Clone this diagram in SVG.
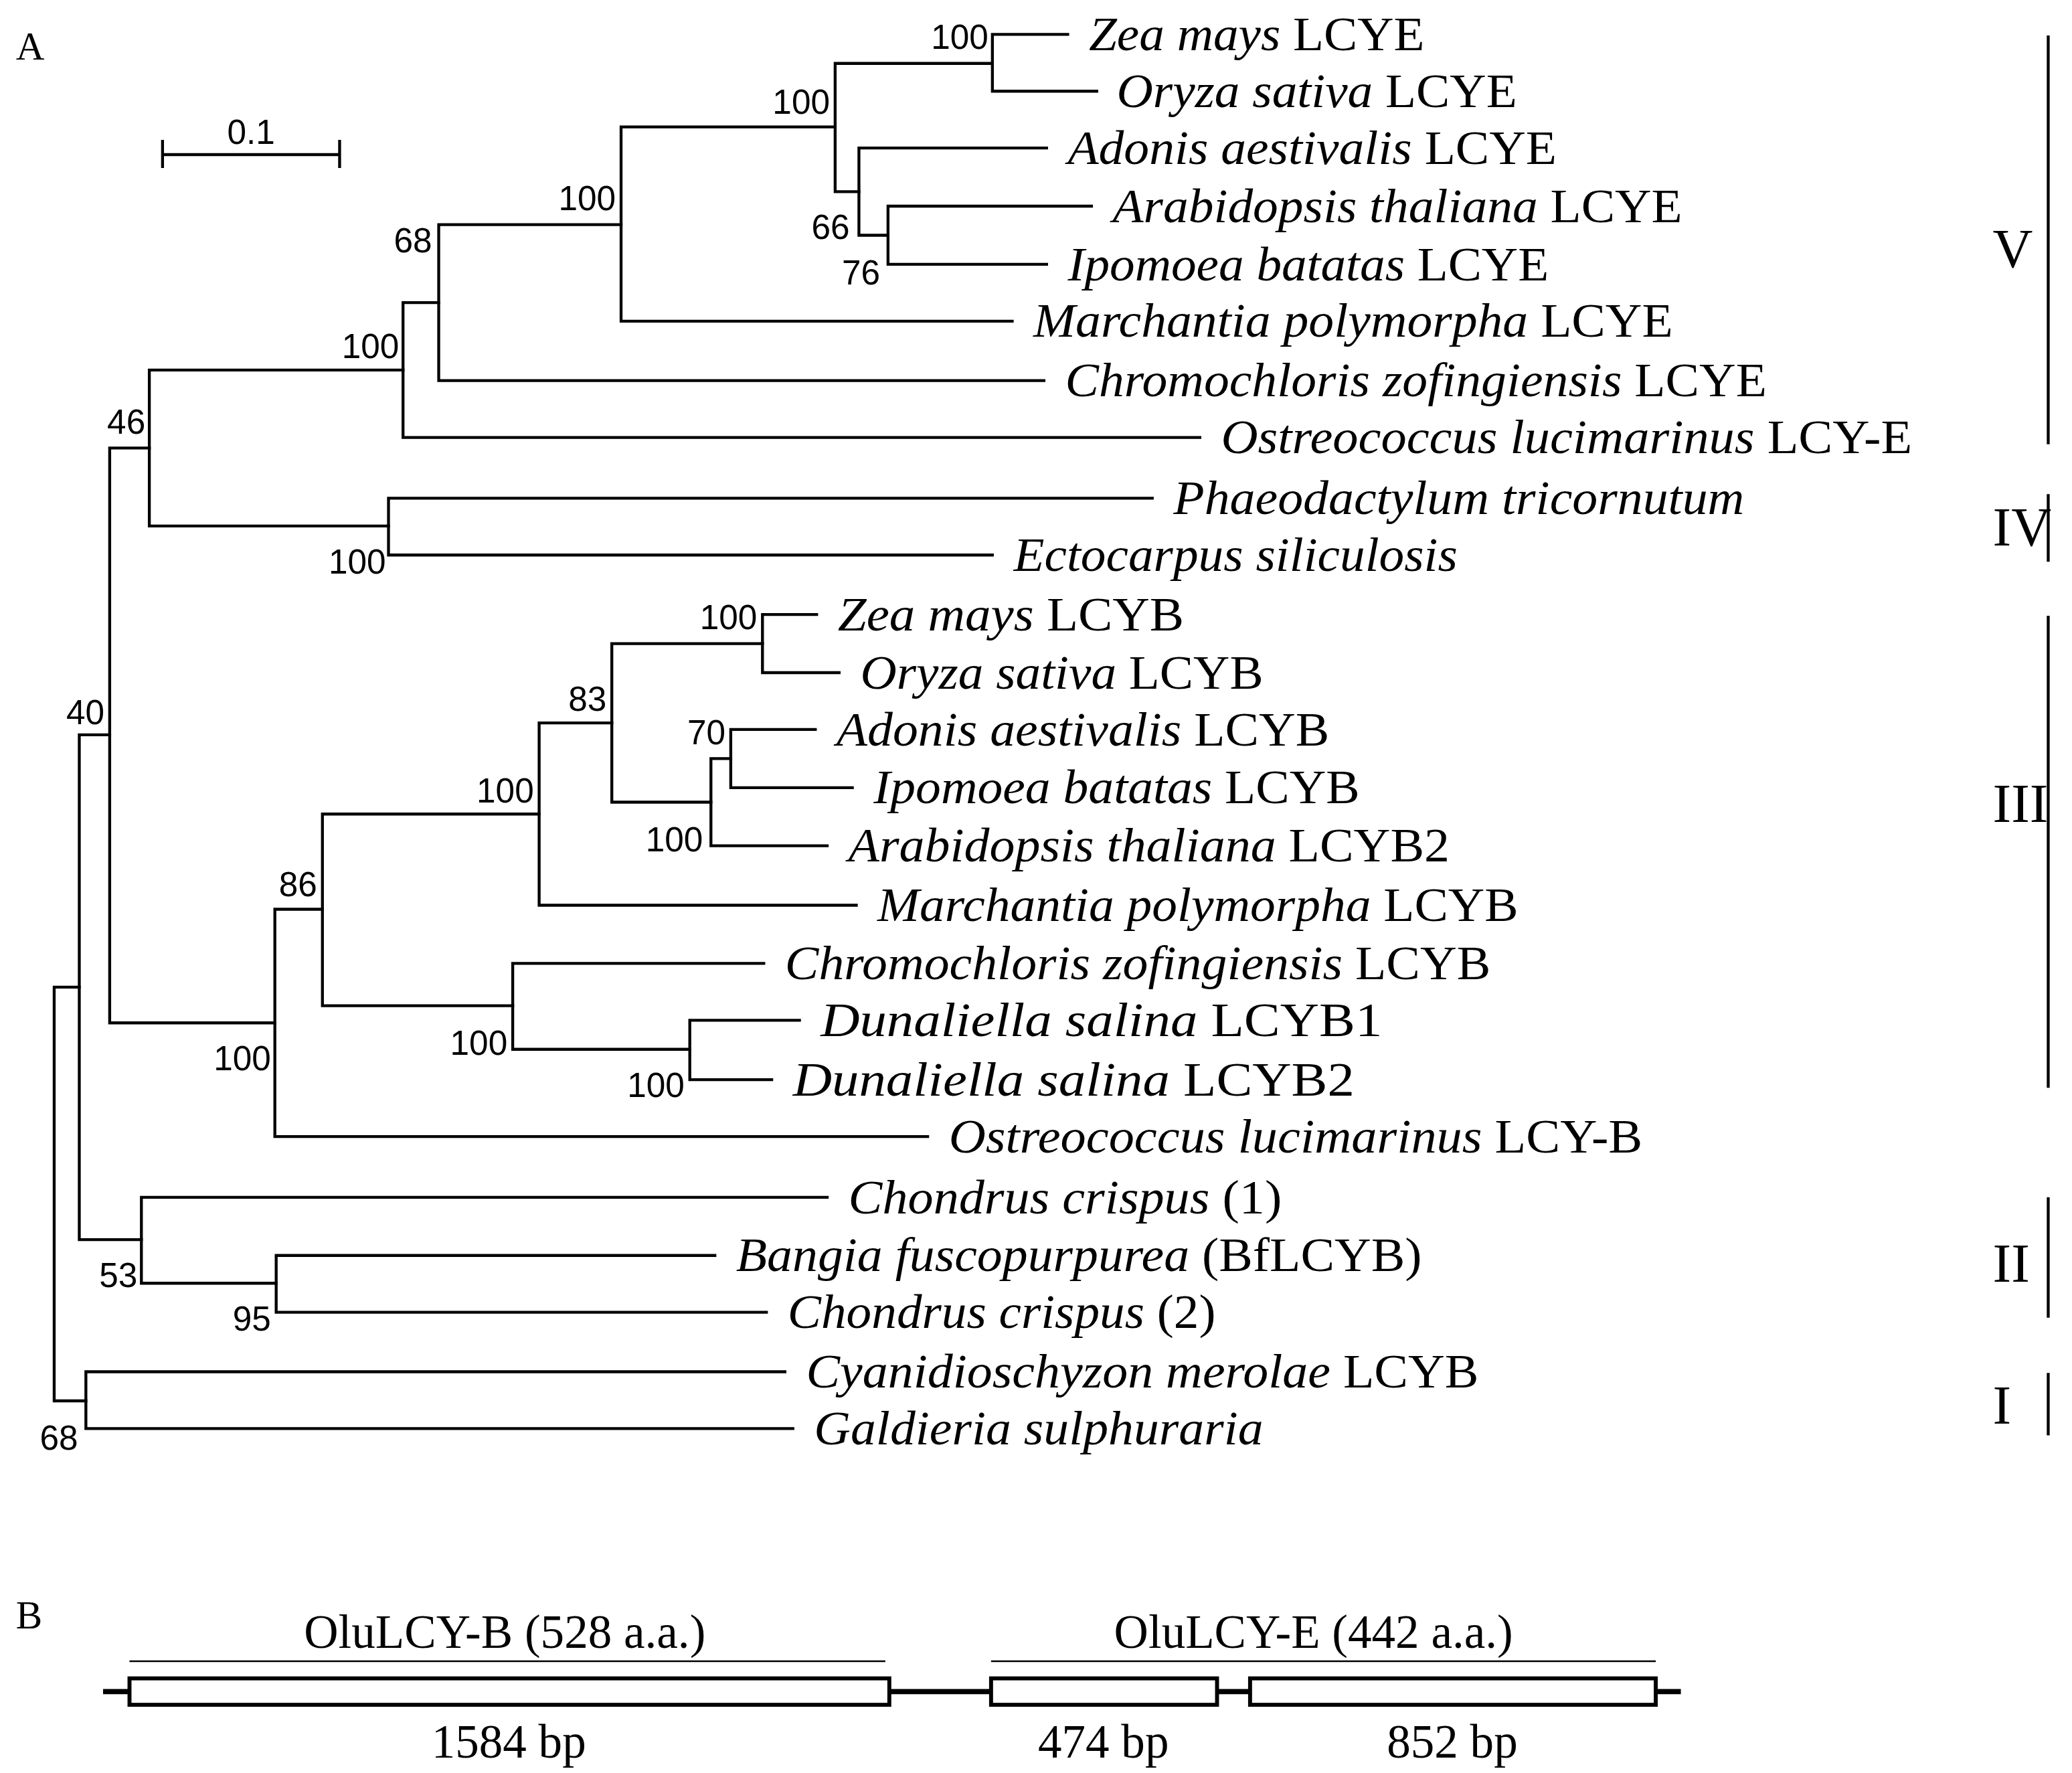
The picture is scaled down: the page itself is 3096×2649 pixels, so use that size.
<svg xmlns="http://www.w3.org/2000/svg" width="3096" height="2649" viewBox="0 0 3096 2649">
<style>
.t{font-family:"Liberation Serif",serif;font-size:36px;fill:#000}
.i{font-style:italic}
.b{font-family:"Liberation Sans",Arial,sans-serif;font-size:26px;fill:#000}
.r{font-family:"Liberation Serif",serif;font-size:42px;fill:#000}
.e{fill:none;stroke:#000;stroke-width:2.2;stroke-linecap:square}
</style>
<rect width="3096" height="2649" fill="#fff"/>
<g transform="scale(1.9745)">
<text class="r" x="12" y="45" style="font-size:30px">A</text>
<g id="scalebar"><path class="e" d="M123 117H257M123 107V126M257 107V126"/><text class="b" x="190" y="109" text-anchor="middle">0.1</text></g>
<g id="connectors">
<path class="e" d="M751 26H808M751 69H830M751 26V69"/>
<path class="e" d="M672 156H826M672 200H792M672 156V200"/>
<path class="e" d="M650 112H792M650 178H672M650 112V178"/>
<path class="e" d="M632 48H751M632 145H650M632 48V145"/>
<path class="e" d="M470 96H632M470 243H766M470 96V243"/>
<path class="e" d="M332 170H470M332 288H790M332 170V288"/>
<path class="e" d="M305 229H332M305 331H908M305 229V331"/>
<path class="e" d="M294 377H872M294 420H751M294 377V420"/>
<path class="e" d="M113 280H305M113 398H294M113 280V398"/>
<path class="e" d="M577 465H618M577 509H635M577 465V509"/>
<path class="e" d="M553 552H617M553 596H645M553 552V596"/>
<path class="e" d="M538 574H553M538 640H626M538 574V640"/>
<path class="e" d="M463 487H577M463 607H538M463 487V607"/>
<path class="e" d="M408 547H463M408 685H648M408 547V685"/>
<path class="e" d="M522 772H605M522 817H584M522 772V817"/>
<path class="e" d="M388 729H578M388 794H522M388 729V794"/>
<path class="e" d="M244 616H408M244 761H388M244 616V761"/>
<path class="e" d="M208 688H244M208 860H702M208 688V860"/>
<path class="e" d="M83 339H113M83 774H208M83 339V774"/>
<path class="e" d="M209 950H541M209 993H580M209 950V993"/>
<path class="e" d="M107 906H626M107 971H209M107 906V971"/>
<path class="e" d="M60 556H83M60 938H107M60 556V938"/>
<path class="e" d="M65 1038H594M65 1081H600M65 1038V1081"/>
<path class="e" d="M41 747H60M41 1060H65M41 747V1060"/>
</g>
<g id="bootstrap">
<text class="b" x="748" y="37" text-anchor="end">100</text>
<text class="b" x="628" y="86" text-anchor="end">100</text>
<text class="b" x="643" y="181" text-anchor="end">66</text>
<text class="b" x="666" y="215" text-anchor="end">76</text>
<text class="b" x="466" y="159" text-anchor="end">100</text>
<text class="b" x="327" y="191" text-anchor="end">68</text>
<text class="b" x="302" y="271" text-anchor="end">100</text>
<text class="b" x="110" y="328" text-anchor="end">46</text>
<text class="b" x="292" y="434" text-anchor="end">100</text>
<text class="b" x="573" y="476" text-anchor="end">100</text>
<text class="b" x="549" y="563" text-anchor="end">70</text>
<text class="b" x="532" y="644" text-anchor="end">100</text>
<text class="b" x="459" y="538" text-anchor="end">83</text>
<text class="b" x="404" y="607" text-anchor="end">100</text>
<text class="b" x="518" y="830" text-anchor="end">100</text>
<text class="b" x="384" y="798" text-anchor="end">100</text>
<text class="b" x="240" y="678" text-anchor="end">86</text>
<text class="b" x="205" y="810" text-anchor="end">100</text>
<text class="b" x="79" y="548" text-anchor="end">40</text>
<text class="b" x="205" y="1007" text-anchor="end">95</text>
<text class="b" x="104" y="974" text-anchor="end">53</text>
<text class="b" x="59" y="1097" text-anchor="end">68</text>
</g>
<g id="taxa">
<text class="t" x="824" y="38" textLength="254" lengthAdjust="spacingAndGlyphs"><tspan class="i">Zea mays</tspan> LCYE</text>
<text class="t" x="845" y="81" textLength="303" lengthAdjust="spacingAndGlyphs"><tspan class="i">Oryza sativa</tspan> LCYE</text>
<text class="t" x="808" y="124" textLength="370" lengthAdjust="spacingAndGlyphs"><tspan class="i">Adonis aestivalis</tspan> LCYE</text>
<text class="t" x="842" y="168" textLength="431" lengthAdjust="spacingAndGlyphs"><tspan class="i">Arabidopsis thaliana</tspan> LCYE</text>
<text class="t" x="808" y="212" textLength="364" lengthAdjust="spacingAndGlyphs"><tspan class="i">Ipomoea batatas</tspan> LCYE</text>
<text class="t" x="782" y="255" textLength="484" lengthAdjust="spacingAndGlyphs"><tspan class="i">Marchantia polymorpha</tspan> LCYE</text>
<text class="t" x="806" y="300" textLength="531" lengthAdjust="spacingAndGlyphs"><tspan class="i">Chromochloris zofingiensis</tspan> LCYE</text>
<text class="t" x="924" y="343" textLength="523" lengthAdjust="spacingAndGlyphs"><tspan class="i">Ostreococcus lucimarinus</tspan> LCY-E</text>
<text class="t i" x="888" y="389" textLength="432" lengthAdjust="spacingAndGlyphs">Phaeodactylum tricornutum</text>
<text class="t i" x="767" y="432" textLength="336" lengthAdjust="spacingAndGlyphs">Ectocarpus siliculosis</text>
<text class="t" x="634" y="477" textLength="262" lengthAdjust="spacingAndGlyphs"><tspan class="i">Zea mays</tspan> LCYB</text>
<text class="t" x="651" y="521" textLength="305" lengthAdjust="spacingAndGlyphs"><tspan class="i">Oryza sativa</tspan> LCYB</text>
<text class="t" x="633" y="564" textLength="373" lengthAdjust="spacingAndGlyphs"><tspan class="i">Adonis aestivalis</tspan> LCYB</text>
<text class="t" x="661" y="608" textLength="368" lengthAdjust="spacingAndGlyphs"><tspan class="i">Ipomoea batatas</tspan> LCYB</text>
<text class="t" x="642" y="652" textLength="455" lengthAdjust="spacingAndGlyphs"><tspan class="i">Arabidopsis thaliana</tspan> LCYB2</text>
<text class="t" x="664" y="697" textLength="485" lengthAdjust="spacingAndGlyphs"><tspan class="i">Marchantia polymorpha</tspan> LCYB</text>
<text class="t" x="594" y="741" textLength="534" lengthAdjust="spacingAndGlyphs"><tspan class="i">Chromochloris zofingiensis</tspan> LCYB</text>
<text class="t" x="621" y="784" textLength="425" lengthAdjust="spacingAndGlyphs"><tspan class="i">Dunaliella salina</tspan> LCYB1</text>
<text class="t" x="600" y="829" textLength="425" lengthAdjust="spacingAndGlyphs"><tspan class="i">Dunaliella salina</tspan> LCYB2</text>
<text class="t" x="718" y="872" textLength="525" lengthAdjust="spacingAndGlyphs"><tspan class="i">Ostreococcus lucimarinus</tspan> LCY-B</text>
<text class="t" x="642" y="918" textLength="328" lengthAdjust="spacingAndGlyphs"><tspan class="i">Chondrus crispus</tspan> (1)</text>
<text class="t" x="557" y="962" textLength="519" lengthAdjust="spacingAndGlyphs"><tspan class="i">Bangia fuscopurpurea</tspan> (BfLCYB)</text>
<text class="t" x="596" y="1005" textLength="324" lengthAdjust="spacingAndGlyphs"><tspan class="i">Chondrus crispus</tspan> (2)</text>
<text class="t" x="610" y="1050" textLength="509" lengthAdjust="spacingAndGlyphs"><tspan class="i">Cyanidioschyzon merolae</tspan> LCYB</text>
<text class="t i" x="616" y="1093" textLength="340" lengthAdjust="spacingAndGlyphs">Galdieria sulphuraria</text>
</g>
<g id="clades">
<path class="e" d="M1550 28V335M1550 375V424M1550 467V822M1550 907V996M1550 1040V1085"/>
<text class="r" x="1508" y="202">V</text>
<text class="r" x="1508" y="413">IV</text>
<text class="r" x="1508" y="622">III</text>
<text class="r" x="1508" y="970">II</text>
<text class="r" x="1508" y="1077">I</text>
</g>
<g id="partB">
<text class="r" x="12" y="1232" style="font-size:30px">B</text>
<path d="M78 1280H1272" stroke="#000" stroke-width="4"/>
<path d="M98 1257H670M750 1257H1253" stroke="#000" stroke-width="1.2"/>
<rect x="98" y="1270" width="575" height="20" fill="#fff" stroke="#000" stroke-width="3"/>
<rect x="750" y="1270" width="171" height="20" fill="#fff" stroke="#000" stroke-width="3"/>
<rect x="946" y="1270" width="307" height="20" fill="#fff" stroke="#000" stroke-width="3"/>
<text class="t" x="382" y="1247" text-anchor="middle">OluLCY-B (528 a.a.)</text>
<text class="t" x="994" y="1247" text-anchor="middle">OluLCY-E (442 a.a.)</text>
<text class="t" x="385" y="1330" text-anchor="middle">1584 bp</text>
<text class="t" x="835" y="1330" text-anchor="middle">474 bp</text>
<text class="t" x="1099" y="1330" text-anchor="middle">852 bp</text>
</g>
</g>
</svg>
